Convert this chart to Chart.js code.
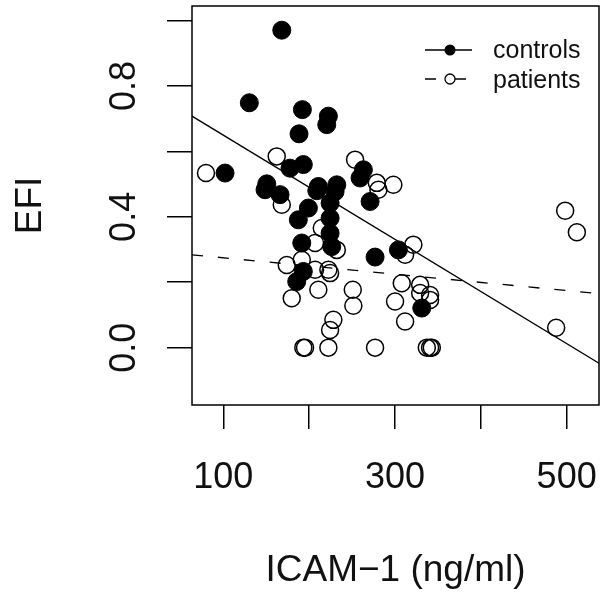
<!DOCTYPE html>
<html>
<head>
<meta charset="utf-8">
<script src="https://cdn.jsdelivr.net/npm/chart.js@4.4.0/dist/chart.umd.min.js"></script>
<style>
  body { margin: 0; background: #fff; }
</style>
</head>
<body>
<canvas id="grafico" width="601" height="593"></canvas>
<script>
// dados (EFI x ICAM-1)
var controlesX = [168.1, 130.3, 192.1, 222.4, 220.5, 188.2, 102.0, 177.7, 193.2, 150.6,
                  148.6, 166.1, 210.7, 232.2, 208.9, 230.2, 263.2, 259.3, 271.0, 199.1,
                  187.4, 224.4, 224.4, 224.4, 226.3, 191.4, 276.8, 304.0, 193.2, 185.5, 331.2];
var controlesY = [0.971, 0.749, 0.728, 0.708, 0.682, 0.654, 0.534, 0.549, 0.560, 0.501,
                  0.483, 0.468, 0.493, 0.498, 0.480, 0.477, 0.544, 0.519, 0.447, 0.427,
                  0.391, 0.442, 0.396, 0.350, 0.309, 0.320, 0.277, 0.299, 0.233, 0.202, 0.121];

var pacientesX = [79.8, 162.2, 168.1, 253.5, 278.8, 280.7, 298.1, 498.3, 511.9, 321.4,
                  311.8, 214.7, 206.9, 232.2, 173.9, 191.4, 206.9, 222.4, 224.4, 179.7,
                  210.7, 250.8, 251.5, 228.2, 224.4, 307.9, 329.3, 300.1, 329.3, 340.9,
                  340.9, 311.8, 487.8, 195.2, 193.2, 222.4, 276.8, 337.1, 340.9, 342.9];
var pacientesY = [0.534, 0.585, 0.437, 0.575, 0.504, 0.483, 0.498, 0.419, 0.353, 0.315,
                  0.284, 0.366, 0.320, 0.299, 0.253, 0.269, 0.238, 0.238, 0.228, 0.151,
                  0.177, 0.177, 0.128, 0.085, 0.054, 0.197, 0.192, 0.141, 0.167, 0.146,
                  0.161, 0.080, 0.061, 0, 0, 0, 0, 0, 0, 0];

// retas de regressao (extremos do eixo x)
var retaX = [63.5, 537.7];
var retaControles = [0.708, -0.048];
var retaPacientes = [0.284, 0.165];

var ticksX = [100, 200, 300, 400, 500];
var rotulosX = [100, 300, 500];
var ticksY = [0, 0.2, 0.4, 0.6, 0.8, 1.0];
var rotulosY = [0, 0.4, 0.8];

var fonte = '"Liberation Sans", Arial, sans-serif';
var corTexto = '#111';

function juntar(xs, ys) {
    var pontos = [];
    for (var i = 0; i < xs.length; i++) {
        pontos.push({ x: xs[i], y: ys[i] });
    }
    return pontos;
}

// textos, caixa e legenda desenhados por cima (estilo R)
var extras = {
    id: 'extras',
    afterDraw: function (chart) {
        var ctx = chart.ctx;
        var area = chart.chartArea;
        var sx = chart.scales.x;
        var sy = chart.scales.y;

        ctx.save();
        ctx.strokeStyle = '#000';
        ctx.lineWidth = 1.5;
        ctx.strokeRect(area.left, area.top, area.right - area.left, area.bottom - area.top);

        ctx.fillStyle = corTexto;
        ctx.font = '36px ' + fonte;
        ctx.textAlign = 'center';
        ctx.textBaseline = 'alphabetic';
        for (var i = 0; i < rotulosX.length; i++) {
            ctx.fillText(String(rotulosX[i]), sx.getPixelForValue(rotulosX[i]), 488);
        }
        for (var j = 0; j < rotulosY.length; j++) {
            ctx.save();
            ctx.translate(122, sy.getPixelForValue(rotulosY[j]));
            ctx.rotate(-Math.PI / 2);
            ctx.fillText(rotulosY[j].toFixed(1), 0, 13);
            ctx.restore();
        }

        ctx.font = '37px ' + fonte;
        ctx.fillText('ICAM\u22121 (ng/ml)', (area.left + area.right) / 2, 581);
        ctx.save();
        ctx.translate(28, (area.top + area.bottom) / 2);
        ctx.rotate(-Math.PI / 2);
        ctx.fillText('EFI', 0, 13);
        ctx.restore();

        // legenda
        ctx.lineWidth = 1.3;
        ctx.beginPath();
        ctx.moveTo(425, 50);
        ctx.lineTo(472, 50);
        ctx.stroke();
        ctx.beginPath();
        ctx.arc(450, 50, 5.5, 0, Math.PI * 2);
        ctx.fillStyle = '#000';
        ctx.fill();

        ctx.beginPath();
        ctx.moveTo(425, 79);
        ctx.lineTo(436, 79);
        ctx.moveTo(455, 79);
        ctx.lineTo(466, 79);
        ctx.stroke();
        ctx.beginPath();
        ctx.arc(450, 79, 5, 0, Math.PI * 2);
        ctx.fillStyle = '#fff';
        ctx.fill();
        ctx.stroke();

        ctx.fillStyle = corTexto;
        ctx.font = '25px ' + fonte;
        ctx.textAlign = 'left';
        ctx.fillText('controls', 493, 58);
        ctx.fillText('patients', 493, 88);
        ctx.restore();
    }
};

function eixo(min, max, lista, tamanho, ehX) {
    return {
        type: 'linear',
        min: min,
        max: max,
        afterBuildTicks: function (s) {
            s.ticks = lista.map(function (v) { return { value: v }; });
        },
        afterFit: function (s) {
            if (ehX) { s.height = 188; } else { s.width = 192; }
        },
        ticks: { display: false },
        border: { display: false },
        grid: {
            drawOnChartArea: false,
            drawTicks: true,
            tickLength: tamanho,
            color: '#000',
            lineWidth: 1.5
        }
    };
}

var Grafico = new Chart(document.getElementById('grafico'), {
    type: 'scatter',
    data: {
        datasets: [{
            label: 'controls',
            data: juntar(controlesX, controlesY),
            pointRadius: 9,
            backgroundColor: '#000',
            borderColor: '#000',
            borderWidth: 1
        },
        {
            label: 'patients',
            data: juntar(pacientesX, pacientesY),
            pointRadius: 8.5,
            backgroundColor: 'rgba(0,0,0,0)',
            borderColor: '#000',
            borderWidth: 1.5
        },
        {
            label: 'fit controls',
            data: juntar(retaX, retaControles),
            showLine: true,
            pointRadius: 0,
            borderColor: '#000',
            borderWidth: 1.3
        },
        {
            label: 'fit patients',
            data: juntar(retaX, retaPacientes),
            showLine: true,
            pointRadius: 0,
            borderColor: '#000',
            borderWidth: 1.3,
            borderDash: [11, 15]
        }]
    },
    options: {
        responsive: false,
        animation: false,
        events: [],
        layout: { autoPadding: false, padding: { top: 6, right: 2, left: 0, bottom: 0 } },
        plugins: {
            legend: { display: false },
            tooltip: { enabled: false }
        },
        scales: {
            x: eixo(63.5, 537.7, ticksX, 24, true),
            y: eixo(-0.1755, 1.045, ticksY, 25, false)
        }
    },
    plugins: [extras]
});
</script>
</body>
</html>
